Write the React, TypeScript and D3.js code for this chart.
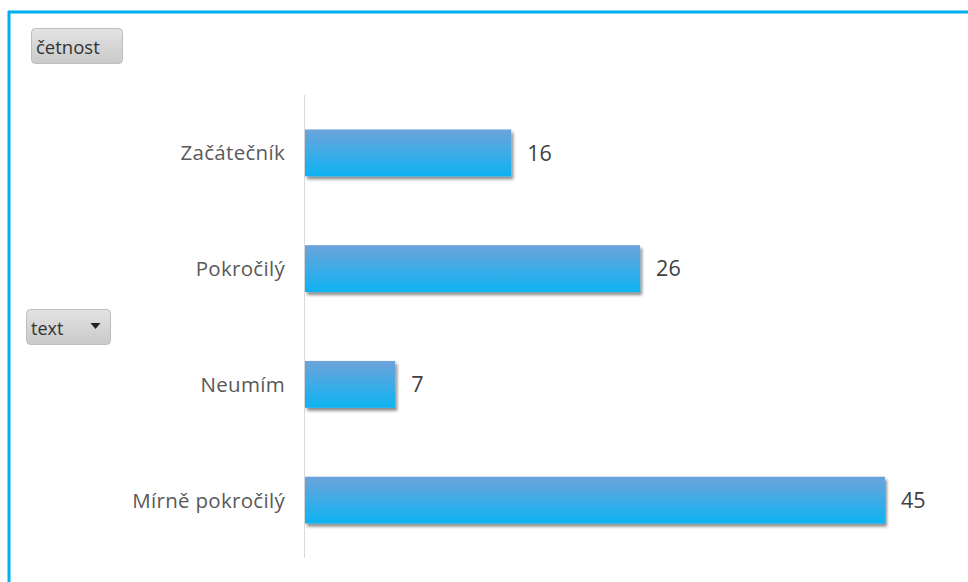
import React from "react";
import * as d3 from "d3";

const categories = ["Začátečník", "Pokročilý", "Neumím", "Mírně pokročilý"];
const counts = [16, 26, 7, 45];
const valueFieldLabel = "četnost";
const categoryFieldLabel = "text";

const W = 968;
const H = 582;
const FONT = "'Open Sans', 'Noto Sans', sans-serif";

export default function App() {
  const x = d3.scaleLinear().domain([0, 45]).range([305, 885]);
  const y = d3
    .scaleBand<string>()
    .domain(categories)
    .range([95, 558])
    .paddingInner(0.595)
    .paddingOuter(0.2975);

  return (
    <svg
      width={W}
      height={H}
      style={{ position: "absolute", left: 0, top: 0, background: "#fff" }}
    >
      <defs>
        <linearGradient id="barFill" x1="0" y1="0" x2="0" y2="1">
          <stop offset="0%" stopColor="#6ea3db" />
          <stop offset="100%" stopColor="#0db3f1" />
        </linearGradient>
        <linearGradient id="btnFill" x1="0" y1="0" x2="0" y2="1">
          <stop offset="0%" stopColor="#e3e3e3" />
          <stop offset="100%" stopColor="#c9c9c9" />
        </linearGradient>
        <filter id="barShadow" x="-5%" y="-20%" width="115%" height="160%">
          <feDropShadow dx="2" dy="3" stdDeviation="1.8" floodColor="#000" floodOpacity="0.45" />
        </filter>
      </defs>

      {/* frame */}
      <line x1={8} y1={12} x2={W} y2={12} stroke="#00b0f0" strokeWidth={3} />
      <line x1={9} y1={11} x2={9} y2={H} stroke="#00b0f0" strokeWidth={3} />

      {/* field buttons */}
      <g>
        <rect x={31.5} y={28.5} width={91} height={35} rx={4} fill="url(#btnFill)" stroke="#bdbdbd" />
        <text x={36} y={54} fontFamily={FONT} fontSize={18.5} fill="#333">
          {valueFieldLabel}
        </text>
      </g>
      <g>
        <rect x={26.5} y={309.5} width={84} height={35} rx={4} fill="url(#btnFill)" stroke="#bdbdbd" />
        <text x={31} y={335} fontFamily={FONT} fontSize={18} fill="#333">
          {categoryFieldLabel}
        </text>
        <path d="M90.5,323 L100.5,323 L95.5,329 Z" fill="#222" />
      </g>

      {/* category axis line */}
      <line x1={304.5} y1={95} x2={304.5} y2={558} stroke="#d9d9d9" strokeWidth={1} />

      {categories.map((c, i) => {
        const y0 = y(c)!;
        const bw = y.bandwidth();
        const v = counts[i];
        return (
          <g key={c}>
            <rect
              x={x(0)}
              y={y0}
              width={x(v) - x(0)}
              height={bw}
              fill="url(#barFill)"
              filter="url(#barShadow)"
            />
            <text
              x={x(v) + 16}
              y={y0 + bw / 2}
              dy="0.36em"
              fontFamily={FONT}
              fontSize={21.5}
              fill="#404040"
            >
              {v}
            </text>
            <text
              x={285}
              y={y0 + bw / 2}
              dy="0.36em"
              textAnchor="end"
              fontFamily={FONT}
              fontSize={20.5}
              letterSpacing={0.3}
              fill="#595959"
            >
              {c}
            </text>
          </g>
        );
      })}
    </svg>
  );
}
